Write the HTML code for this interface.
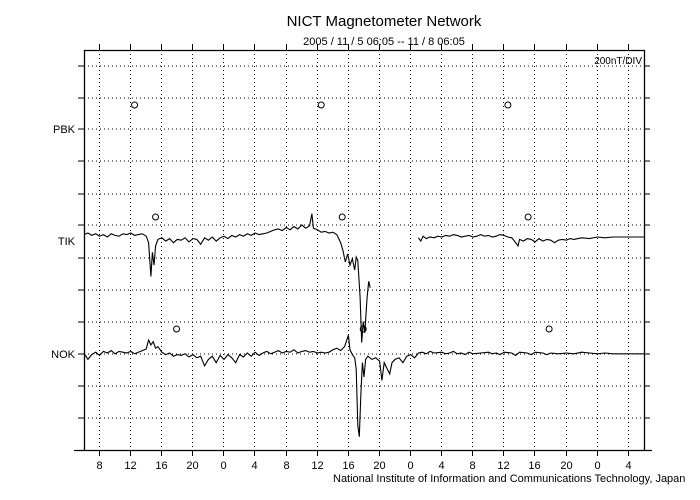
<!DOCTYPE html>
<html><head><meta charset="utf-8"><style>
html,body{margin:0;padding:0;background:#fff;}
svg{display:block;font-family:"Liberation Sans",sans-serif;}
</style></head><body>
<svg id="chart" width="700" height="500" viewBox="0 0 700 500">
<text x="384" y="26" font-size="15" text-anchor="middle">NICT Magnetometer Network</text>
<text x="384" y="45" font-size="11" text-anchor="middle">2005 / 11 / 5   06:05 -- 11 / 8   06:05</text>
<text x="642" y="64" font-size="10" text-anchor="end">200nT/DIV</text>
<text x="333" y="482" font-size="11">National Institute of Information and Communications Technology, Japan</text>
<g id="grid"></g>
<g id="axes"></g>
<g id="marks"></g>
</svg>
<script>
const hourTicks=[1.92,5.92,9.92,13.92,17.92,21.92,25.92,29.92,33.92,37.92,41.92,45.92,49.92,53.92,57.92,61.92,65.92,69.92];
const hourLabels=["8","12","16","20","0","4","8","12","16","20","0","4","8","12","16","20","0","4"];
const stations=["PBK","TIK","NOK"];
const stationLabelY=[129,241,354];
const stationBase=[129,233,353];
const noonMarkY=[105,217,329];
const noonMarks=[[6.5,30.5,54.5],[9.2,33.2,57.1],[11.9,35.9,59.8]];
const tikTimes=[0,0.5,1,1.5,2,2.5,3,3.5,4,4.5,5,5.5,6,6.5,7,7.5,8,8.3,8.6,8.8,9.0,9.2,9.5,10,10.5,11,11.5,12,12.5,13,13.5,14,14.5,15,15.5,16,16.5,17,17.5,18,18.5,19,19.5,20,20.5,21,21.5,22,22.5,23,23.5,24,24.5,25,25.5,26,26.5,27,27.5,28,28.5,29,29.3,29.5,30,30.5,31,31.5,32,32.5,33,33.3,33.6,33.9,34.2,34.5,34.8,35,35.2,35.5,35.7,35.9,36.1,36.4,36.6,36.8,40,43,43.3,43.6,44,44.5,45,45.5,46,46.5,47,47.5,48,48.5,49,49.5,50,50.5,51,51.5,52,52.5,53,53.5,54,54.5,55,55.5,55.8,56,56.5,57,57.5,58,58.5,59,59.5,60,60.5,61,61.5,62,62.5,63,63.5,64,65,66,67,68,69,70,71,72];
const tikValues=[-10,0,-15,-5,-20,-10,-25,-5,-15,-20,-5,-10,0,-15,-10,-5,-20,-60,-270,-120,-200,-80,-40,-30,-50,-35,-60,-40,-45,-30,-55,-35,-40,-70,-30,-45,-25,-50,-30,-20,-35,-15,-25,-10,-20,-5,-15,0,-10,-5,0,10,20,25,15,35,20,40,25,50,30,45,120,30,20,5,10,0,5,-10,-60,-110,-180,-130,-200,-160,-230,-150,-170,-400,-680,-550,-620,-400,-300,-340,null,-30,-50,-20,-35,-25,-30,-20,-25,-15,-20,-10,-15,-25,-20,-15,-25,-20,-10,-20,-15,-25,-20,-10,-15,-25,-30,-60,-80,-40,-50,-35,-40,-55,-35,-50,-40,-45,-60,-45,-40,-45,-35,-40,-35,-30,-35,-25,-30,-25,-25,-25,-25,-25];
const nokTimes=[0,0.5,1,1.5,2,2.5,3,3.5,4,4.5,5,5.5,6,6.5,7,7.5,8,8.3,8.6,8.9,9.2,9.5,10,10.5,11,11.5,12,12.5,13,13.5,14,14.5,15,15.5,16,16.5,17,17.5,18,18.5,19,19.5,20,20.5,21,21.5,22,22.5,23,23.5,24,24.5,25,25.5,26,26.5,27,27.5,28,28.5,29,29.5,30,30.5,31,31.5,32,32.5,33,33.5,34,34.2,34.5,34.8,35,35.2,35.4,35.6,35.8,36,36.2,36.5,37,37.5,38,38.3,38.6,39,39.3,39.6,40,40.5,41,41.5,42,42.5,43,43.5,44,44.5,45,46,46.5,47,47.5,48,48.5,49,49.5,50,51,52,52.5,53,53.5,54,55,55.5,56,57,57.5,58,59,59.5,60,61,62,63,64,65,66,67,68,69,70,71,72];
const nokValues=[0,-40,-10,5,-15,10,0,15,-5,10,5,0,10,-5,5,15,25,80,50,70,30,40,5,-10,0,-20,-10,-15,-5,-25,-10,-30,-20,-80,-40,-20,-60,-15,-40,-10,-30,-60,-10,-25,0,-20,5,-15,0,10,-5,5,15,0,10,5,20,0,10,15,5,10,0,5,0,5,20,30,15,40,110,20,-10,-30,-100,-450,-520,-250,-60,-150,-40,-20,-40,-30,-50,-170,-60,-100,-130,-60,-40,-30,-60,-20,-10,-30,0,5,-5,10,0,5,-5,0,10,-5,0,-10,5,-5,0,5,-5,0,-10,5,0,-15,5,0,-10,5,0,-10,0,-5,0,-5,5,0,-5,0,-5,-5,-5,-5,-5];

const L=84,R=644,T=50,B=450;
const pxPerHour=(R-L)/72, pxPerNT=32.2/200;
const xs=t=>L+t*pxPerHour;
const ys=(v,base)=>base-v*pxPerNT;
const NS="http://www.w3.org/2000/svg";
function mk(tag,attrs,parent){const e=document.createElementNS(NS,tag);for(const k in attrs)e.setAttribute(k,attrs[k]);parent.appendChild(e);return e;}
const grid=document.getElementById('grid'),axes=document.getElementById('axes'),marks=document.getElementById('marks');
const hLines=[66,98,129,161,194,225,258,290,322,354,386,418];
hLines.forEach(y=>{
  const g=mk('line',{x1:L,x2:R,y1:y,y2:y,stroke:'#000','stroke-width':1,'stroke-dasharray':'1 3'},grid);
  
  
  const t1=mk('line',{x1:L-6,x2:L,y1:y,y2:y,stroke:'#000'},axes);
  
  
  const t2=mk('line',{x1:R,x2:R+6,y1:y,y2:y,stroke:'#000'},axes);
  
  
});
hourTicks.forEach((h,i)=>{
  const x=Math.round(xs(h))+0.5;
  const g=mk('line',{x1:x,x2:x,y1:T,y2:B,stroke:'#000','stroke-width':1,'stroke-dasharray':'1 3'},grid);
  
  
  const a=mk('line',{x1:x,x2:x,y1:T-6,y2:T,stroke:'#000'},axes);
  
  
  const b=mk('line',{x1:x,x2:x,y1:B,y2:B+6,stroke:'#000'},axes);
  
  
  const tx=mk('text',{x:x,y:469,'font-size':11,'text-anchor':'middle'},axes);
  tx.textContent=hourLabels[i];
  
  
});
const frame=mk('path',{d:`M${L+0.5},${T} V${B+0.5} M${L-10},${B+0.5} H${R+8} M${L},${T+0.5} H${R+0.5} V${B}`,stroke:'#000','stroke-width':1.3,fill:'none'},axes);


stations.forEach((s,i)=>{
  const t=mk('text',{x:75,y:stationLabelY[i]+4,'font-size':11,'text-anchor':'end'},axes);
  t.textContent=s;
  
  
  noonMarks[i].forEach(h=>{
    const c=mk('circle',{cx:xs(h),cy:noonMarkY[i],r:3,fill:'none',stroke:'#000'},marks);
    
    
  });
});
function series(times,vals,base,name){
  let d='',pen=false;
  times.forEach((t,i)=>{
    const v=vals[i];
    if(v===null){pen=false;return;}
    d+=(pen?'L':'M')+xs(t).toFixed(1)+','+ys(v,base).toFixed(1)+' ';pen=true;
  });
  const p=mk('path',{d:d,fill:'none',stroke:'#000','stroke-width':1.1},marks);
  
  
}
series(tikTimes,tikValues,stationBase[1],'tik-trace');
series(nokTimes,nokValues,stationBase[2],'nok-trace');
</script>
</body></html>
